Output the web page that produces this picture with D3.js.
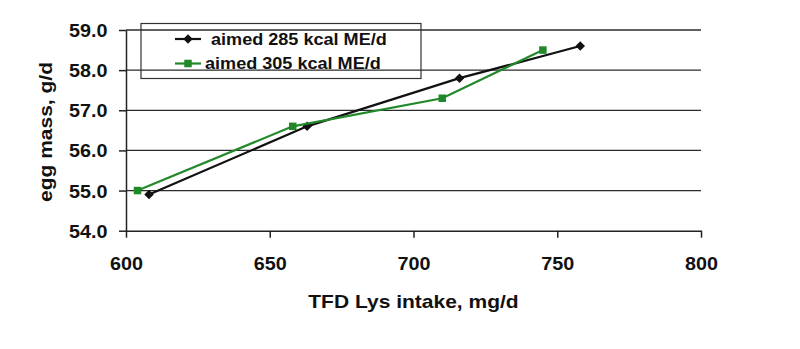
<!DOCTYPE html>
<html>
<head>
<meta charset="utf-8">
<script src="https://cdn.jsdelivr.net/npm/d3@7"></script>
<style>
  html, body { margin: 0; padding: 0; background: #fff; }
  svg { display: block; }
  text { font-family: "Liberation Sans", Arial, Helvetica, sans-serif; font-weight: bold; fill: #111; }
</style>
</head>
<body>
<svg id="chart" width="800" height="349"></svg>
<script>
// Egg mass response to total-feed-digestible lysine intake
const seriesNames = ["aimed 285 kcal ME/d", "aimed 305 kcal ME/d"];
const lysIntake285 = [608, 663, 716, 758];
const eggMass285   = [54.9, 56.6, 57.8, 58.6];
const lysIntake305 = [604, 658, 710, 745];
const eggMass305   = [55.0, 56.6, 57.3, 58.5];
const xTicks = [600, 650, 700, 750, 800];
const yTicks = [54, 55, 56, 57, 58, 59];
const xTitle = "TFD Lys intake, mg/d";
const yTitle = "egg mass, g/d";

const colors = ["#111111", "#22892a"];
const stretch = 1.13; // wide bold face

const svg = d3.select("#chart");
const plot = { left: 126, right: 701, top: 30, bottom: 230.7 };

const x = d3.scaleLinear().domain([600, 800]).range([plot.left, plot.right]);
const y = d3.scaleLinear().domain([54, 59]).range([plot.bottom, plot.top]);

// horizontal gridlines
svg.append("g").selectAll("line")
  .data(yTicks.filter(v => v > 54))
  .join("line")
  .attr("x1", plot.left).attr("x2", plot.right)
  .attr("y1", d => y(d)).attr("y2", d => y(d))
  .attr("stroke", "#2b2b2b").attr("stroke-width", 1.3);

// y axis
const yAxis = svg.append("g")
  .attr("transform", `translate(${plot.left},0)`)
  .call(d3.axisLeft(y).tickValues(yTicks).tickFormat(d3.format(".1f")).tickSize(7).tickSizeOuter(0));
yAxis.select(".domain").attr("stroke", "#222").attr("stroke-width", 1.5);
yAxis.selectAll(".tick line").attr("stroke", "#222").attr("stroke-width", 1.5);
yAxis.selectAll(".tick text")
  .attr("font-size", 17.5)
  .attr("transform", `scale(${stretch},1)`)
  .attr("x", -18.5 / stretch)
  .attr("dy", null)
  .attr("y", 6.5);

// x axis
const xAxis = svg.append("g")
  .attr("transform", `translate(0,${plot.bottom})`)
  .call(d3.axisBottom(x).tickValues(xTicks).tickFormat(d3.format("d")).tickSize(7).tickSizeOuter(0));
xAxis.select(".domain").attr("stroke", "#222").attr("stroke-width", 1.5);
xAxis.selectAll(".tick line").attr("stroke", "#222").attr("stroke-width", 1.5);
xAxis.selectAll(".tick text")
  .attr("font-size", 17.5)
  .attr("transform", `scale(${stretch},1)`)
  .attr("x", 0)
  .attr("dy", null)
  .attr("y", 39.3);

// stretched text helper
function label(parent, tx, ty, rot, str, size, anchor) {
  parent.append("g")
    .attr("transform", `translate(${tx},${ty}) rotate(${rot}) scale(${stretch},1)`)
    .append("text")
    .attr("text-anchor", anchor)
    .attr("font-size", size)
    .text(str);
}

label(svg, (plot.left + plot.right) / 2, 308.3, 0, xTitle, 18.6, "middle");
label(svg, 52, 132, -90, yTitle, 18.6, "middle");

// series lines and markers
const series = [
  { name: seriesNames[0], xs: lysIntake285, ys: eggMass285, color: colors[0], symbol: d3.symbolDiamond2, size: 58 },
  { name: seriesNames[1], xs: lysIntake305, ys: eggMass305, color: colors[1], symbol: d3.symbolSquare2, size: 72 }
];

const line = d3.line().x(d => x(d[0])).y(d => y(d[1]));

series.forEach(s => {
  const pts = s.xs.map((v, i) => [v, s.ys[i]]);
  svg.append("path")
    .datum(pts)
    .attr("d", line)
    .attr("fill", "none")
    .attr("stroke", s.color)
    .attr("stroke-width", 2.2);
  svg.append("g").selectAll("path")
    .data(pts)
    .join("path")
    .attr("transform", d => `translate(${x(d[0])},${y(d[1])})`)
    .attr("d", d3.symbol().type(s.symbol).size(s.size))
    .attr("fill", s.color);
});

// legend
const legend = svg.append("g");
legend.append("rect")
  .attr("x", 141).attr("y", 23.5)
  .attr("width", 280).attr("height", 55)
  .attr("fill", "none")
  .attr("stroke", "#333").attr("stroke-width", 1.2);

const legendRows = [
  { y: 39, textX: 211, textY: 44.5 },
  { y: 63.5, textX: 205, textY: 68.5 }
];
series.forEach((s, i) => {
  const r = legendRows[i];
  legend.append("line")
    .attr("x1", 175).attr("x2", 201)
    .attr("y1", r.y).attr("y2", r.y)
    .attr("stroke", s.color).attr("stroke-width", 2.2);
  legend.append("path")
    .attr("transform", `translate(188,${r.y})`)
    .attr("d", d3.symbol().type(s.symbol).size(s.size))
    .attr("fill", s.color);
  label(legend, r.textX, r.textY, 0, s.name, 16, "start");
});
</script>
</body>
</html>
